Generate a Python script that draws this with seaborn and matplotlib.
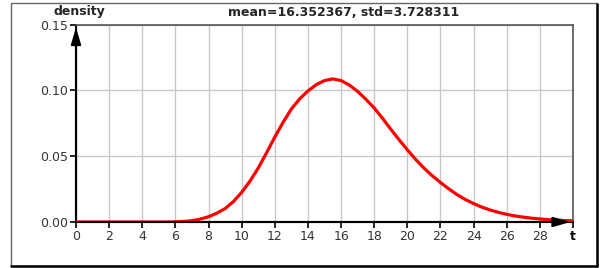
import matplotlib
matplotlib.use("Agg")
import matplotlib.pyplot as plt
import seaborn as sns
import pandas as pd
from matplotlib.patches import Rectangle
from matplotlib.lines import Line2D

# values (step 0.5)
t_values = [0.0, 0.5, 1.0, 1.5, 2.0, 2.5, 3.0, 3.5, 4.0, 4.5, 5.0, 5.5,
            6.0, 6.5, 7.0, 7.5, 8.0, 8.5, 9.0, 9.5, 10.0, 10.5, 11.0, 11.5,
            12.0, 12.5, 13.0, 13.5, 14.0, 14.5, 15.0, 15.5, 16.0, 16.5, 17.0, 17.5,
            18.0, 18.5, 19.0, 19.5, 20.0, 20.5, 21.0, 21.5, 22.0, 22.5, 23.0, 23.5,
            24.0, 24.5, 25.0, 25.5, 26.0, 26.5, 27.0, 27.5, 28.0, 28.5, 29.0, 29.5, 30.0]
density = [0, 0, 0, 0, 0, 0, 0, 0, 0, 0, 0, 0,
           0.0001, 0.0004, 0.0010, 0.0022, 0.0040, 0.0067, 0.0102, 0.0155, 0.0225, 0.0310, 0.0410, 0.0525,
           0.0645, 0.0757, 0.0858, 0.0935, 0.0995, 0.1043, 0.1074, 0.1087, 0.1074, 0.1040, 0.0992, 0.0932,
           0.0866, 0.0788, 0.0705, 0.0625, 0.0548, 0.0476, 0.0410, 0.0352, 0.0300, 0.0252, 0.0208, 0.0171,
           0.0140, 0.0113, 0.0091, 0.0073, 0.0058, 0.0046, 0.0037, 0.0029, 0.0023, 0.0018, 0.0014, 0.0011, 0.0008]
x_ticks = list(range(0, 31, 2))
x_labels = [str(v) for v in range(0, 29, 2)] + ["t"]
y_ticks = [0.0, 0.05, 0.10, 0.15]
y_labels = ["0.00", "0.05", "0.10", "0.15"]
title_text = "mean=16.352367, std=3.728311"

df = pd.DataFrame({"t": t_values, "density": density})

sns.set_style("white")
plt.rcParams["font.family"] = ["DejaVu Sans"]

fig = plt.figure(figsize=(6, 2.68), dpi=100)
ax = fig.add_axes([76 / 600, 1 - 222 / 268, (573 - 76) / 600, (222 - 24.5) / 268])

sns.lineplot(data=df, x="t", y="density", color="#ff0000", lw=2.3, ax=ax, zorder=3)

ax.set_xlim(0, 30)
ax.set_ylim(0, 0.15)
ax.set_xticks(x_ticks)
ax.set_xticklabels(x_labels)
ax.set_yticks(y_ticks)
ax.set_yticklabels(y_labels)
ax.set_xlabel("")
ax.set_ylabel("")
ax.grid(True, color="#c8c8c8", lw=1)
ax.tick_params(axis="both", direction="out", length=4, width=1.2, color="black",
               labelsize=9, labelcolor="#333333", pad=2, bottom=True, left=True)
ax.get_xticklabels()[-1].set_fontweight("bold")
ax.get_xticklabels()[-1].set_color("black")

for side in ["top", "right"]:
    ax.spines[side].set_visible(True)
    ax.spines[side].set_color("#555555")
    ax.spines[side].set_linewidth(1.2)
for side in ["left", "bottom"]:
    ax.spines[side].set_color("black")
    ax.spines[side].set_linewidth(1.5)

# arrow heads on the axes
arrow_style = "-|>,head_length=0.85,head_width=0.25"
ax.annotate("", xy=(0, 0.15), xytext=(0, 0.0), annotation_clip=False,
            arrowprops=dict(arrowstyle=arrow_style, color="black", lw=1.5, mutation_scale=12), zorder=5)
ax.annotate("", xy=(30, 0), xytext=(0, 0), annotation_clip=False,
            arrowprops=dict(arrowstyle=arrow_style, color="black", lw=1.5, mutation_scale=12), zorder=5)

fig.text(53 / 600, 1 - 12 / 268, "density", fontsize=9, fontweight="bold", va="center", ha="left")
fig.text(344 / 600, 1 - 12 / 268, title_text, fontsize=9, fontweight="bold", va="center", ha="center")

# outer frame with shadow on right/bottom
fig.patches.append(Rectangle((10.5 / 600, 1 - 266 / 268), 586 / 600, 263 / 268,
                             transform=fig.transFigure, fill=False, edgecolor="#666666", lw=1))
fig.lines.append(Line2D([596.5 / 600, 596.5 / 600], [1 - 266 / 268, 1 - 4 / 268],
                        transform=fig.transFigure, color="black", lw=1.8))
fig.lines.append(Line2D([11 / 600, 597 / 600], [1 - 266 / 268, 1 - 266 / 268],
                        transform=fig.transFigure, color="black", lw=1.8))

fig.savefig("out.png", dpi=100)
